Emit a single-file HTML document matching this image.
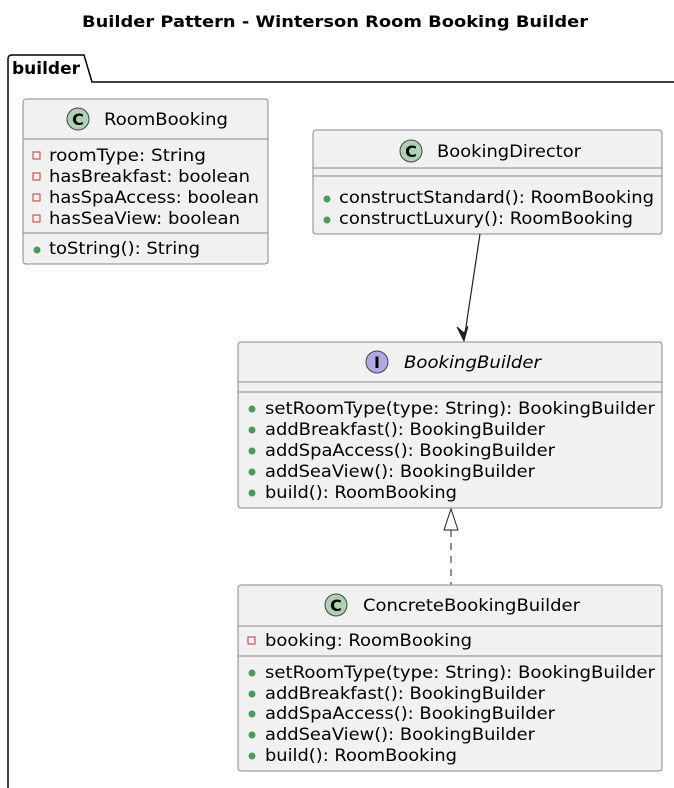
<!DOCTYPE html>
<html><head><meta charset="utf-8"><style>
html,body{margin:0;padding:0;background:#fff;width:674px;height:788px;overflow:hidden}
text{font-family:"DejaVu Sans","Liberation Sans",sans-serif;font-size:16.5px;fill:#000}
</style></head><body>
<svg width="674" height="788" viewBox="0 0 674 788" xmlns="http://www.w3.org/2000/svg">
<text x="82" y="27" textLength="506" lengthAdjust="spacingAndGlyphs" style="font-weight:bold;font-size:16px">Builder Pattern - Winterson Room Booking Builder</text>
<path d="M8,82 L8,59 Q8,55 12,55 L84,55 L92,82 L674,82 M8,82 L8,788" fill="none" stroke="#000" stroke-width="1.5"/>
<text x="12" y="74" textLength="68" lengthAdjust="spacingAndGlyphs" style="font-weight:bold;font-size:17px">builder</text>

<!-- RoomBooking -->
<rect x="23" y="99" width="245" height="165" rx="3" fill="#f1f1f1" stroke="#888"/>
<circle cx="78" cy="119" r="11" fill="#add1b2" stroke="#444"/>
<text x="78" y="125" text-anchor="middle" style="font-weight:bold;font-size:16px">C</text>
<text x="104" y="125" textLength="124" lengthAdjust="spacingAndGlyphs" style="font-size:17px">RoomBooking</text>
<line x1="23" y1="139" x2="268" y2="139" stroke="#888"/>
<g fill="none" stroke="#c33"><rect x="33" y="152" width="7" height="7"/><rect x="33" y="173" width="7" height="7"/><rect x="33" y="194" width="7" height="7"/><rect x="33" y="215" width="7" height="7"/></g>
<text x="49" y="161" textLength="157" lengthAdjust="spacingAndGlyphs">roomType: String</text>
<text x="49" y="182" textLength="201" lengthAdjust="spacingAndGlyphs">hasBreakfast: boolean</text>
<text x="49" y="203" textLength="210" lengthAdjust="spacingAndGlyphs">hasSpaAccess: boolean</text>
<text x="49" y="224" textLength="191" lengthAdjust="spacingAndGlyphs">hasSeaView: boolean</text>
<line x1="23" y1="233" x2="268" y2="233" stroke="#888"/>
<circle cx="37" cy="250" r="3.5" fill="#4a9a5a"/>
<text x="49" y="254" textLength="151" lengthAdjust="spacingAndGlyphs">toString(): String</text>

<!-- BookingDirector -->
<rect x="313" y="130" width="349" height="104" rx="3" fill="#f1f1f1" stroke="#888"/>
<circle cx="411" cy="151" r="11" fill="#add1b2" stroke="#444"/>
<text x="411" y="157" text-anchor="middle" style="font-weight:bold;font-size:16px">C</text>
<text x="437" y="157" textLength="144" lengthAdjust="spacingAndGlyphs" style="font-size:17px">BookingDirector</text>
<line x1="313" y1="168" x2="662" y2="168" stroke="#888"/>
<line x1="313" y1="176" x2="662" y2="176" stroke="#888"/>
<circle cx="327" cy="199" r="3.5" fill="#4a9a5a"/><text x="339" y="203" textLength="315" lengthAdjust="spacingAndGlyphs">constructStandard(): RoomBooking</text>
<circle cx="327" cy="220" r="3.5" fill="#4a9a5a"/><text x="339" y="224" textLength="294" lengthAdjust="spacingAndGlyphs">constructLuxury(): RoomBooking</text>

<line x1="480" y1="234" x2="464" y2="340" stroke="#222" stroke-width="1.2"/>
<path d="M457,327 L464,341 L468,326 L464,333 Z" fill="#222" stroke="#222"/>

<!-- BookingBuilder -->
<rect x="238" y="342" width="424" height="166" rx="3" fill="#f1f1f1" stroke="#888"/>
<circle cx="377" cy="362" r="11" fill="#b4a7e5" stroke="#444"/>
<text x="377" y="368" text-anchor="middle" style="font-weight:bold;font-size:16px">I</text>
<text x="404" y="368" textLength="137" lengthAdjust="spacingAndGlyphs" style="font-size:17px;font-style:italic">BookingBuilder</text>
<line x1="238" y1="382" x2="662" y2="382" stroke="#888"/>
<line x1="238" y1="392" x2="662" y2="392" stroke="#888"/>
<g fill="#4a9a5a"><circle cx="252" cy="409" r="3.5"/><circle cx="252" cy="430" r="3.5"/><circle cx="252" cy="451" r="3.5"/><circle cx="252" cy="472" r="3.5"/><circle cx="252" cy="493" r="3.5"/></g>
<text x="265" y="414" textLength="390" lengthAdjust="spacingAndGlyphs">setRoomType(type: String): BookingBuilder</text>
<text x="265" y="435" textLength="280" lengthAdjust="spacingAndGlyphs">addBreakfast(): BookingBuilder</text>
<text x="265" y="456" textLength="290" lengthAdjust="spacingAndGlyphs">addSpaAccess(): BookingBuilder</text>
<text x="265" y="477" textLength="270" lengthAdjust="spacingAndGlyphs">addSeaView(): BookingBuilder</text>
<text x="265" y="498" textLength="192" lengthAdjust="spacingAndGlyphs">build(): RoomBooking</text>

<line x1="451" y1="530" x2="451" y2="585" stroke="#222" stroke-dasharray="7,6"/>
<path d="M451,509 L444,530 L458,530 Z" fill="#fff" stroke="#222"/>

<!-- ConcreteBookingBuilder -->
<rect x="238" y="585" width="424" height="186" rx="3" fill="#f1f1f1" stroke="#888"/>
<circle cx="336" cy="605" r="11" fill="#add1b2" stroke="#444"/>
<text x="336" y="611" text-anchor="middle" style="font-weight:bold;font-size:16px">C</text>
<text x="363" y="611" textLength="217" lengthAdjust="spacingAndGlyphs" style="font-size:17px">ConcreteBookingBuilder</text>
<line x1="238" y1="626" x2="662" y2="626" stroke="#888"/>
<rect x="248" y="637" width="7" height="7" fill="none" stroke="#c33"/>
<text x="265" y="646" textLength="207" lengthAdjust="spacingAndGlyphs">booking: RoomBooking</text>
<line x1="238" y1="656" x2="662" y2="656" stroke="#888"/>
<g fill="#4a9a5a"><circle cx="252" cy="673" r="3.5"/><circle cx="252" cy="694" r="3.5"/><circle cx="252" cy="714" r="3.5"/><circle cx="252" cy="735" r="3.5"/><circle cx="252" cy="756" r="3.5"/></g>
<text x="265" y="678" textLength="390" lengthAdjust="spacingAndGlyphs">setRoomType(type: String): BookingBuilder</text>
<text x="265" y="699" textLength="280" lengthAdjust="spacingAndGlyphs">addBreakfast(): BookingBuilder</text>
<text x="265" y="719" textLength="290" lengthAdjust="spacingAndGlyphs">addSpaAccess(): BookingBuilder</text>
<text x="265" y="740" textLength="270" lengthAdjust="spacingAndGlyphs">addSeaView(): BookingBuilder</text>
<text x="265" y="761" textLength="192" lengthAdjust="spacingAndGlyphs">build(): RoomBooking</text>
</svg>
</body></html>
